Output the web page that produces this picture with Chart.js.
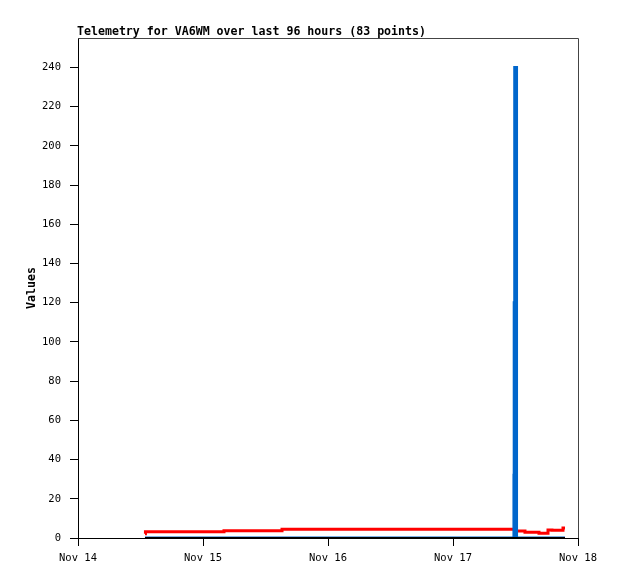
<!DOCTYPE html>
<html>
<head>
<meta charset="utf-8">
<script src="https://cdn.jsdelivr.net/npm/chart.js@4"></script>
<style>
  body { margin: 0; background: #fff; }
  #wrap { width: 618px; height: 579px; }
</style>
</head>
<body>
<div id="wrap"><canvas id="chart" width="618" height="579"></canvas></div>
<script>
// hours since Nov 14 00:00
const xTickValues = [0, 24, 48, 72, 96];
const xTickLabels = ['Nov 14', 'Nov 15', 'Nov 16', 'Nov 17', 'Nov 18'];
const yTickValues = [0, 20, 40, 60, 80, 100, 120, 140, 160, 180, 200, 220, 240];

const redHours   = [12.86, 12.95, 28.03, 39.17, 83.9, 85.82, 88.51, 90.24, 91.0, 93.12, 93.5];
const redValues  = [2.2,   3.2,   3.7,   4.4,   3.6,  2.9,   2.4,   4.1,   3.9,  5.1,   5.1];

const blueHours  = [12.86, 83.6, 83.7, 83.75, 83.85, 84.2, 93.5];
const blueValues = [0,     0,    32,   120,   240,   0,    0];

const blackHours  = [12.86, 93.5];
const blackValues = [0, 0];

const titleText = 'Telemetry for VA6WM over last 96 hours (83 points)';

function toPoints(xs, ys) {
    return xs.map((x, i) => ({ x: x, y: ys[i] }));
}

Chart.defaults.font.family = 'DejaVu Sans Mono';
Chart.defaults.color = '#000';

const framePlugin = {
    id: 'frame',
    afterDraw(chart) {
        const ctx = chart.ctx;
        const a = chart.chartArea;
        ctx.save();
        ctx.strokeStyle = '#444';
        ctx.lineWidth = 1;
        ctx.beginPath();
        ctx.moveTo(a.left, a.top + 0.5);
        ctx.lineTo(a.right + 0.5, a.top + 0.5);
        ctx.lineTo(a.right + 0.5, a.bottom);
        ctx.stroke();
        ctx.fillStyle = '#000';
        ctx.font = 'bold 11.6px "DejaVu Sans Mono"';
        ctx.textBaseline = 'alphabetic';
        ctx.fillText(titleText, 77, 35);
        ctx.restore();
    }
};

new Chart(document.getElementById('chart'), {
    type: 'line',
    data: {
        datasets: [
            {
                data: toPoints(blackHours, blackValues),
                borderColor: '#000',
                borderWidth: 2,
                pointRadius: 0,
                fill: false,
                order: 0
            },
            {
                data: toPoints(blueHours, blueValues),
                borderColor: '#0066cc',
                borderWidth: 3,
                stepped: true,
                pointRadius: 0,
                fill: false,
                order: 1
            },
            {
                data: toPoints(redHours, redValues),
                borderColor: '#ff0000',
                borderWidth: 3,
                stepped: true,
                pointRadius: 0,
                fill: false,
                order: 2
            }
        ]
    },
    options: {
        responsive: false,
        animation: false,
        layout: { padding: { top: 38, right: 40, left: 0, bottom: 0 } },
        scales: {
            x: {
                type: 'linear',
                min: 0,
                max: 96,
                afterFit(scale) { scale.height = 41; },
                afterBuildTicks(scale) {
                    scale.ticks = xTickValues.map(v => ({ value: v }));
                },
                grid: { drawOnChartArea: false, drawTicks: true, tickLength: 8, color: '#000' },
                border: { display: true, color: '#000', width: 1 },
                ticks: {
                    padding: 6,
                    maxRotation: 0,
                    autoSkip: false,
                    font: { size: 10.5 },
                    callback: (v) => xTickLabels[xTickValues.indexOf(v)]
                }
            },
            y: {
                min: 0,
                max: 255,
                afterFit(scale) { scale.width = 78; },
                afterBuildTicks(scale) {
                    scale.ticks = yTickValues.map(v => ({ value: v }));
                },
                grid: { drawOnChartArea: false, drawTicks: true, tickLength: 8, color: '#000' },
                border: { display: true, color: '#000', width: 1 },
                ticks: { padding: 9, font: { size: 10.5 } },
                title: {
                    display: true,
                    text: 'Values',
                    font: { size: 11.6, weight: 'bold' },
                    padding: { top: 25, bottom: 0 }
                }
            }
        },
        plugins: {
            legend: { display: false },
            tooltip: { enabled: false }
        }
    },
    plugins: [framePlugin]
});
</script>
</body>
</html>
